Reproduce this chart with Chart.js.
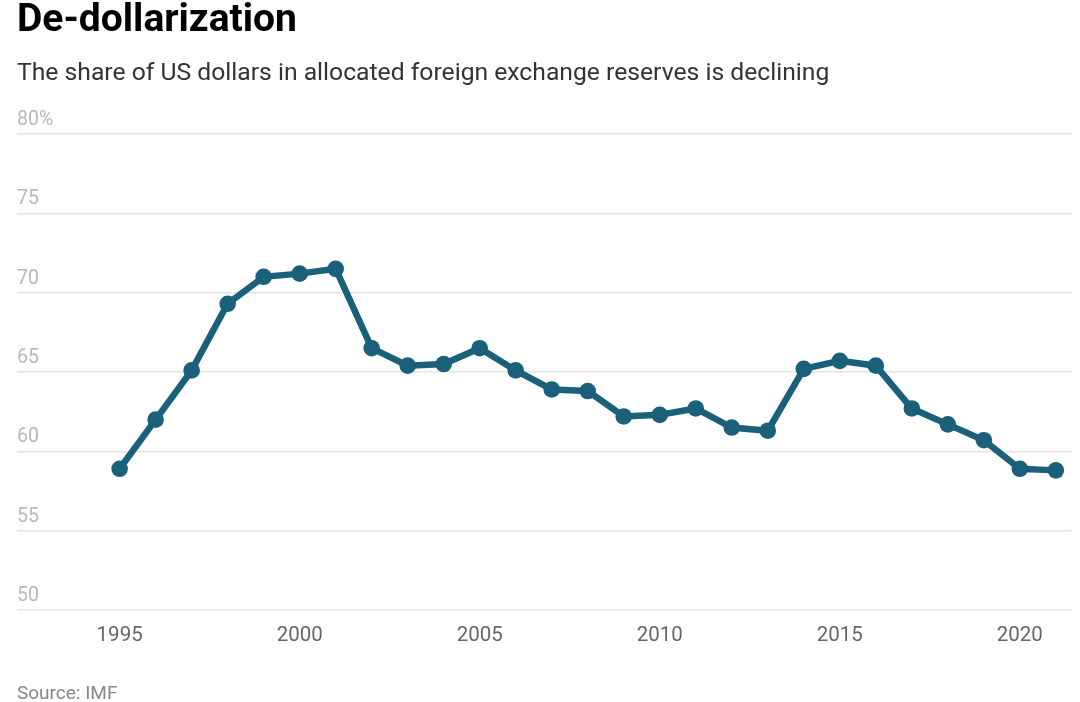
<!DOCTYPE html>
<html>
<head>
<meta charset="utf-8">
<script src="https://cdn.jsdelivr.net/npm/chart.js@4.4.0/dist/chart.umd.min.js"></script>
<style>
  html, body { margin: 0; padding: 0; background: #fff; }
  body { width: 1080px; height: 702px; position: relative; overflow: hidden; font-family: Roboto, "Noto Sans", sans-serif; }
  #title { position: absolute; left: 17px; top: -5px; font-size: 39px; font-weight: 700; color: #000; white-space: nowrap; }
  #subtitle { position: absolute; left: 17px; top: 57px; font-size: 24.7px; color: #333; white-space: nowrap; }
  #source { position: absolute; left: 17px; top: 681px; font-size: 19px; color: #888; white-space: nowrap; }
  #chart { position: absolute; left: 0; top: 0; }
</style>
</head>
<body>
<canvas id="chart" width="1080" height="702"></canvas>
<div id="title">De-dollarization</div>
<div id="subtitle">The share of US dollars in allocated foreign exchange reserves is declining</div>
<div id="source">Source: IMF</div>
<script>
// values
const years = [1995, 1996, 1997, 1998, 1999, 2000, 2001, 2002, 2003, 2004, 2005, 2006, 2007,
               2008, 2009, 2010, 2011, 2012, 2013, 2014, 2015, 2016, 2017, 2018, 2019, 2020, 2021];
const usdShare = [58.9, 62.0, 65.1, 69.3, 71.0, 71.2, 71.5, 66.5, 65.4, 65.5, 66.5, 65.1, 63.9,
                  63.8, 62.2, 62.3, 62.7, 61.5, 61.3, 65.2, 65.7, 65.4, 62.7, 61.7, 60.7, 58.9, 58.8];
const xTicks = [1995, 2000, 2005, 2010, 2015, 2020];
const yTicks = [50, 55, 60, 65, 70, 75, 80];

const lineColor = '#1a607a';

const ctx = document.getElementById('chart').getContext('2d');
new Chart(ctx, {
    type: 'line',
    data: {
        datasets: [{
            data: years.map((y, i) => ({ x: y, y: usdShare[i] })),
            borderColor: lineColor,
            backgroundColor: lineColor,
            borderWidth: 6.5,
            pointRadius: 8.3,
            pointBorderWidth: 0,
            pointBackgroundColor: lineColor,
            tension: 0
        }]
    },
    options: {
        responsive: false,
        animation: false,
        maintainAspectRatio: false,
        devicePixelRatio: 1,
        layout: { padding: { left: 17, right: 5, top: 134, bottom: 52 } },
        plugins: {
            legend: { display: false },
            tooltip: { enabled: false }
        },
        scales: {
            x: {
                type: 'linear',
                min: 1992.15,
                max: 2021.44,
                afterBuildTicks: s => { s.ticks = xTicks.map(v => ({ value: v })); },
                afterFit: s => { s.height = 40; },
                grid: { display: false },
                border: { display: false },
                ticks: {
                    color: '#666',
                    font: { family: 'Roboto', size: 20.5 },
                    padding: 5.5,
                    maxRotation: 0,
                    callback: v => String(v)
                }
            },
            y: {
                min: 50,
                max: 80,
                afterBuildTicks: s => { s.ticks = yTicks.map(v => ({ value: v })); },
                afterFit: s => { s.width = 0; },
                grid: { color: '#e4e4e4', lineWidth: 1.5, drawTicks: false },
                border: { display: false },
                ticks: {
                    mirror: true,
                    padding: 0,
                    labelOffset: -14,
                    color: '#b8b8b8',
                    font: { family: 'Roboto', size: 19.5 },
                    callback: v => v === 80 ? '80%' : String(v)
                }
            }
        }
    }
});
</script>
</body>
</html>
